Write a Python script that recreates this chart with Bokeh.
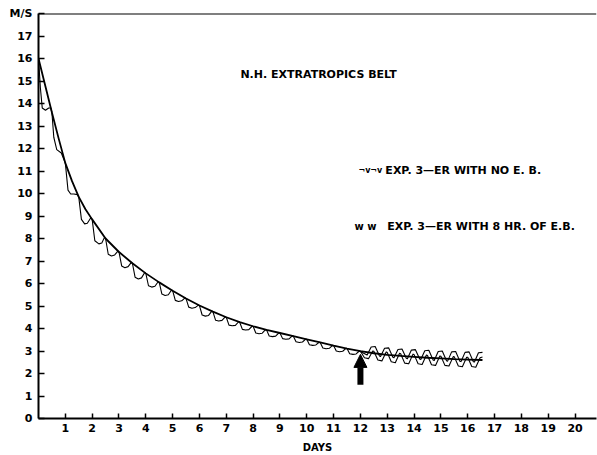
from bokeh.plotting import figure
from bokeh.models import Range1d, FixedTicker, Label, Span, Arrow, NormalHead
from bokeh.embed import file_html
from bokeh.resources import INLINE

# ---- data ----
smooth_days = [0, 0.25, 0.5, 0.75, 1.0, 1.25, 1.5, 1.75, 2.0, 2.5, 3.0, 3.5, 4.0, 4.5, 5.0, 5.5,
               6.0, 6.5, 7.0, 7.5, 8.0, 8.5, 9.0, 9.5, 10.0, 10.5, 11.0, 11.5, 12.0, 12.5, 13.0,
               13.5, 14.0, 14.5, 15.0, 15.5, 16.0, 16.55]
smooth_ms = [16.0, 14.8, 13.6, 12.45, 11.35, 10.55, 9.85, 9.3, 8.85, 8.0, 7.4, 6.9, 6.45, 6.05,
             5.68, 5.33, 5.02, 4.75, 4.5, 4.28, 4.1, 3.94, 3.8, 3.66, 3.52, 3.38, 3.24, 3.11,
             2.99, 2.9, 2.83, 2.78, 2.74, 2.7, 2.67, 2.64, 2.62, 2.6]

# Exp. 3 - ER with no E.B. (scalloped)
noeb_days = [0, 0.07, 0.14, 0.26, 0.38, 0.46,
             0.5, 0.57, 0.68, 0.85, 0.95,
             1.0, 1.1, 1.2, 1.32, 1.45,
             1.5, 1.6, 1.72, 1.82, 1.95,
             2.0, 2.1, 2.25, 2.36, 2.46,
             2.5, 2.6, 2.72, 2.84, 2.96,
             3.0, 3.1, 3.22, 3.34, 3.46,
             3.5, 3.6, 3.72, 3.84, 3.96,
             4.0, 4.1, 4.22, 4.34, 4.46,
             4.5, 4.6, 4.72, 4.84, 4.96,
             5.0, 5.1, 5.22, 5.34, 5.46,
             5.5, 5.6, 5.72, 5.84, 5.96,
             6.0, 6.1, 6.22, 6.34, 6.46,
             6.5, 6.6, 6.72, 6.84, 6.96,
             7.0, 7.1, 7.22, 7.34, 7.46,
             7.5, 7.6, 7.72, 7.84, 7.96,
             8.0, 8.1, 8.22, 8.34, 8.46,
             8.5, 8.6, 8.72, 8.84, 8.96,
             9.0, 9.1, 9.22, 9.34, 9.46,
             9.5, 9.6, 9.72, 9.84, 9.96,
             10.0, 10.1, 10.22, 10.34, 10.46,
             10.5, 10.6, 10.72, 10.84, 10.96,
             11.0, 11.1, 11.22, 11.34, 11.46,
             11.5, 11.6, 11.72, 11.84, 11.96,
             12.0, 12.15, 12.3, 12.46,
             12.5, 12.65, 12.8, 12.96,
             13.0, 13.15, 13.3, 13.46,
             13.5, 13.65, 13.8, 13.96,
             14.0, 14.15, 14.3, 14.46,
             14.5, 14.65, 14.8, 14.96,
             15.0, 15.15, 15.3, 15.46,
             15.5, 15.65, 15.8, 15.96,
             16.0, 16.15, 16.3, 16.46, 16.55]
noeb_ms = [16.0, 14.7, 13.8, 13.7, 13.8, 13.8,
           13.6, 12.5, 11.95, 11.8, 11.5,
           11.35, 10.15, 9.98, 9.98, 9.95,
           9.85, 8.85, 8.65, 8.68, 8.92,
           8.85, 7.9, 7.76, 7.8, 8.05,
           8.0, 7.3, 7.22, 7.27, 7.44,
           7.4, 6.78, 6.7, 6.75, 6.94,
           6.9, 6.28, 6.2, 6.25, 6.49,
           6.45, 5.9, 5.84, 5.88, 6.08,
           6.05, 5.53, 5.47, 5.5, 5.71,
           5.68, 5.25, 5.2, 5.23, 5.36,
           5.33, 4.95, 4.9, 4.93, 5.04,
           5.02, 4.6, 4.55, 4.58, 4.77,
           4.75, 4.37, 4.33, 4.36, 4.52,
           4.5, 4.15, 4.12, 4.14, 4.3,
           4.28, 3.96, 3.93, 3.95, 4.1,
           4.1, 3.8, 3.77, 3.79, 3.95,
           3.94, 3.67, 3.64, 3.66, 3.81,
           3.8, 3.55, 3.52, 3.54, 3.67,
           3.66, 3.41, 3.38, 3.4, 3.53,
           3.52, 3.28, 3.25, 3.27, 3.39,
           3.38, 3.13, 3.1, 3.12, 3.25,
           3.24, 3.0, 2.97, 2.99, 3.12,
           3.11, 2.88, 2.85, 2.87, 3.0,
           2.99, 2.7, 2.66, 3.0,
           2.99, 2.6, 2.56, 2.96,
           2.93, 2.52, 2.48, 2.9,
           2.88, 2.46, 2.43, 2.86,
           2.84, 2.43, 2.4, 2.82,
           2.8, 2.39, 2.36, 2.78,
           2.77, 2.36, 2.33, 2.75,
           2.74, 2.33, 2.3, 2.72,
           2.72, 2.31, 2.28, 2.7, 2.73]

# Exp. 3 - ER with 8 hr of E.B. (departs after day 12)
eb_days = [11.96, 12.25, 12.4, 12.55, 12.71,
           12.75, 12.9, 13.05, 13.21,
           13.25, 13.4, 13.55, 13.71,
           13.75, 13.9, 14.05, 14.21,
           14.25, 14.4, 14.55, 14.71,
           14.75, 14.9, 15.05, 15.21,
           15.25, 15.4, 15.55, 15.71,
           15.75, 15.9, 16.05, 16.21,
           16.25, 16.4, 16.55]
eb_ms = [3.0, 2.82, 3.18, 3.2, 2.78,
         2.76, 3.12, 3.14, 2.72,
         2.7, 3.07, 3.09, 2.68,
         2.66, 3.04, 3.06, 2.64,
         2.62, 3.01, 3.03, 2.6,
         2.58, 2.98, 3.0, 2.57,
         2.55, 2.96, 2.98, 2.54,
         2.53, 2.94, 2.96, 2.52,
         2.51, 2.92, 2.94]

x_ticks = list(range(1, 21))
y_ticks = list(range(0, 19))
y_tick_labels = {i: str(i) for i in range(0, 18)}
y_tick_labels[18] = "M/S"
arrow_day = 12
arrow_from, arrow_to = 1.5, 2.85

title_text = "N.H. EXTRATROPICS BELT"
legend_texts = ["EXP. 3\u2014ER WITH NO E. B.", "EXP. 3\u2014ER WITH 8 HR. OF E.B."]
legend_symbols = ["\u00acv\u00acv", "w w"]

FONT = "DejaVu Sans"

p = figure(width=597, height=455, output_backend="svg", toolbar_location=None,
           x_range=Range1d(0, 20.8), y_range=Range1d(0, 18),
           min_border_left=38, min_border_right=1, min_border_top=13, min_border_bottom=37)
p.outline_line_color = None
p.xgrid.visible = False
p.ygrid.visible = False
p.background_fill_color = "white"
p.border_fill_color = "white"

for ax in (p.xaxis[0], p.yaxis[0]):
    ax.axis_line_width = 2
    ax.axis_line_color = "black"
    ax.major_tick_line_width = 1.5
    ax.major_tick_line_color = "black"
    ax.major_tick_out = 0
    ax.minor_tick_line_color = None
    ax.major_label_text_font = FONT
    ax.major_label_text_font_style = "bold"
    ax.major_label_text_font_size = "11px"
    ax.major_label_text_color = "black"

p.xaxis.ticker = FixedTicker(ticks=x_ticks)
p.xaxis.major_tick_in = 5
p.xaxis.major_label_standoff = 5
p.xaxis.axis_label = "DAYS"
p.xaxis.axis_label_text_font = FONT
p.xaxis.axis_label_text_font_style = "bold"
p.xaxis.axis_label_text_font_size = "10px"
p.xaxis.axis_label_text_color = "black"
p.xaxis.axis_label_standoff = 7

p.yaxis.ticker = FixedTicker(ticks=y_ticks)
p.yaxis.major_label_overrides = y_tick_labels
p.yaxis.major_tick_in = 6
p.yaxis.major_label_standoff = 6

p.add_layout(Span(location=18, dimension="width", line_color="black", line_width=2))

p.line(smooth_days, smooth_ms, line_color="black", line_width=1.8)
p.line(noeb_days, noeb_ms, line_color="black", line_width=1.1, line_join="round")
p.line(eb_days, eb_ms, line_color="black", line_width=1.1, line_join="round")

p.add_layout(Arrow(end=NormalHead(size=13, fill_color="black", line_color="black"),
                   x_start=arrow_day, y_start=arrow_from, x_end=arrow_day, y_end=arrow_to,
                   line_width=6, line_color="black"))

lbl = dict(text_font=FONT, text_color="black", text_baseline="middle", text_font_style="bold")
p.add_layout(Label(x=10.44, y=15.29, text=title_text,
                   text_font_size="11px", text_align="center", **lbl))
p.add_layout(Label(x=12.37, y=11.02, text=legend_symbols[0],
                   text_font_size="8px", text_align="center", **lbl))
p.add_layout(Label(x=12.93, y=11.02, text=legend_texts[0],
                   text_font_size="11px", text_align="left", **lbl))
p.add_layout(Label(x=12.19, y=8.53, text=legend_symbols[1],
                   text_font_size="10px", text_align="center", **lbl))
p.add_layout(Label(x=13.0, y=8.53, text=legend_texts[1],
                   text_font_size="11px", text_align="left", **lbl))

open("out.html", "w").write(file_html(p, INLINE))
